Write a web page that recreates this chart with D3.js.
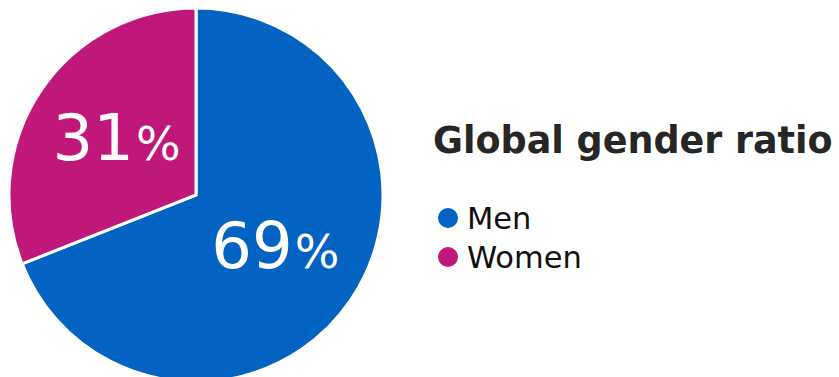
<!DOCTYPE html>
<html>
<head>
<meta charset="utf-8">
<script src="https://cdn.jsdelivr.net/npm/d3@7"></script>
<style>
  body { margin: 0; background: #fff; }
  svg { display: block; font-family: "DejaVu Sans", Verdana, sans-serif; }
</style>
</head>
<body>
<svg id="chart" width="839" height="377"></svg>
<script>
// chart data
const categories = ["Men", "Women"];
const shares = [69, 31];
const colors = ["#0263c2", "#c0187a"];
const title = "Global gender ratio";

const svg = d3.select("#chart");
const cx = 196, cy = 195, radius = 187;

const pie = d3.pie().sort(null).value((d) => d.value);
const data = pie(categories.map((c, i) => ({ name: c, value: shares[i], color: colors[i] })));

const arc = d3.arc().innerRadius(0).outerRadius(radius);
const labelArc = d3.arc().innerRadius(192).outerRadius(0);

const g = svg.append("g").attr("transform", `translate(${cx}, ${cy})`);

g.selectAll("path.slice")
  .data(data)
  .join("path")
  .attr("class", "slice")
  .attr("d", arc)
  .attr("fill", (d) => d.data.color)
  .attr("stroke", "#fff")
  .attr("stroke-width", 3)
  .attr("stroke-linejoin", "miter");

// percentage labels, number big and % sign smaller
const labels = g.selectAll("text.pct")
  .data(data)
  .join("text")
  .attr("class", "pct")
  .attr("transform", (d) => {
    const [x, y] = labelArc.centroid(d);
    return `translate(${x}, ${y})`;
  })
  .attr("text-anchor", "middle")
  .attr("dy", 19)
  .attr("fill", "#fff");

labels.append("tspan").attr("font-size", 64).text((d) => d.data.value);
labels.append("tspan").attr("font-size", 47).attr("dx", 2).text("%");

// title
svg.append("text")
  .attr("x", 433)
  .attr("y", 153)
  .attr("font-size", 36.5)
  .attr("font-weight", "bold")
  .attr("fill", "#262626")
  .text(title);

// legend
const legend = svg.append("g").attr("transform", "translate(448, 218)");
const rowHeight = 39;

const items = legend.selectAll("g.item")
  .data(data)
  .join("g")
  .attr("class", "item")
  .attr("transform", (d, i) => `translate(0, ${i * rowHeight})`);

items.append("circle")
  .attr("r", 10)
  .attr("fill", (d) => d.data.color);

items.append("text")
  .attr("x", 19)
  .attr("y", 11)
  .attr("font-size", 30.5)
  .attr("fill", "#111")
  .text((d) => d.data.name);
</script>
</body>
</html>
